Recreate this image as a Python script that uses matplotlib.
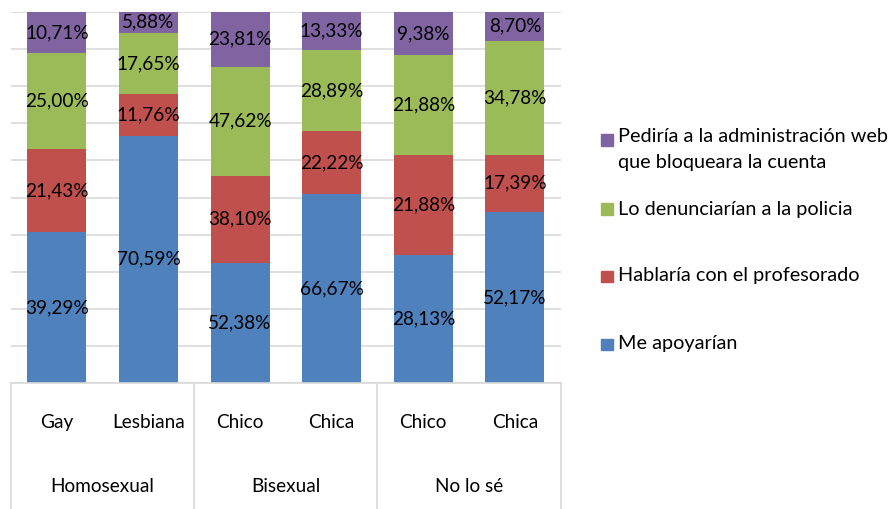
import numpy as np
import matplotlib.pyplot as plt
from matplotlib.transforms import blended_transform_factory
from matplotlib.patches import Rectangle

plt.rcParams['font.family'] = ['Lato', 'DejaVu Sans']

# datos de la encuesta (porcentajes tal como aparecen en las etiquetas)
grupos = ["Homosexual", "Bisexual", "No lo sé"]
subgrupos = ["Gay", "Lesbiana", "Chico", "Chica", "Chico", "Chica"]

me_apoyarian = [39.29, 70.59, 52.38, 66.67, 28.13, 52.17]
profesorado = [21.43, 11.76, 38.10, 22.22, 21.88, 17.39]
policia = [25.00, 17.65, 47.62, 28.89, 21.88, 34.78]
administracion = [10.71, 5.88, 23.81, 13.33, 9.38, 8.70]

series = [
    ("Me apoyarían", me_apoyarian, "#4F81BD"),
    ("Hablaría con el profesorado", profesorado, "#C0504D"),
    ("Lo denunciarían a la policia", policia, "#9BBB59"),
    ("Pediría a la administración web\nque bloqueara la cuenta", administracion, "#8064A2"),
]

fig = plt.figure(figsize=(8.9, 5.09), dpi=100)
ax = fig.add_axes([0.0124, 0.2475, 0.6176, 0.7289])

x = np.arange(len(subgrupos))
total = np.sum([s[1] for s in series], axis=0)
base = np.zeros(len(subgrupos))

# barras apiladas al 100 %
for nombre, valores, color in series:
    v = np.array(valores)
    frac = v / total
    ax.bar(x, frac, 0.645, bottom=base, color=color, zorder=2)
    for xi, b, f, val in zip(x, base, frac, v):
        txt = "{:.2f}%".format(val).replace(".", ",")
        ax.text(xi, b + f / 2, txt, ha="center", va="center", fontsize=13.7,
                color="black", zorder=3)
    base = base + frac

ax.set_xlim(-0.5, 5.5)
ax.set_ylim(0, 1)
ax.set_yticks(np.arange(0, 1.01, 0.1))
ax.set_yticklabels([])
ax.tick_params(axis="y", length=0)
ax.grid(axis="y", color="#d9d9d9", linewidth=1.2, zorder=0)
for lado in ["left", "right", "top"]:
    ax.spines[lado].set_visible(False)
ax.spines["bottom"].set_color("#d9d9d9")
ax.spines["bottom"].set_linewidth(1.2)

ax.set_xticks(x)
ax.set_xticklabels(subgrupos, fontsize=13.7)
ax.tick_params(axis="x", length=0, pad=22)

# etiquetas del segundo nivel y separadores
tr = blended_transform_factory(ax.transData, fig.transFigure)
for i, g in enumerate(grupos):
    ax.text(2 * i + 0.5, 0.045, g, transform=tr, ha="center", va="center",
            fontsize=13.7)
for xs in [-0.5, 1.5, 3.5, 5.5]:
    ax.plot([xs, xs], [0, 0.2475], transform=tr, color="#d9d9d9",
            linewidth=1.2, clip_on=False)

# leyenda
ley_y = [344, 276, 209, 140]
for (nombre, valores, color), yy in zip(series, ley_y):
    yf = 1 - yy / 509
    fig.patches.append(Rectangle((601 / 890, yf - 6 / 509), 11.5 / 890, 11.5 / 509,
                                 transform=fig.transFigure, color=color))
    if "\n" in nombre:
        fig.text(618 / 890, yf + 12 / 509, nombre, ha="left", va="top",
                 fontsize=14.3, linespacing=1.65)
    else:
        fig.text(618 / 890, yf, nombre, ha="left", va="center", fontsize=14.3)

fig.savefig("out.png", dpi=100)
